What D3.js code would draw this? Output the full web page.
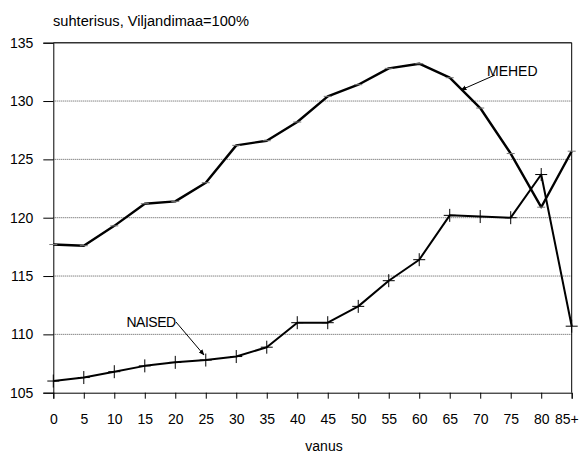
<!DOCTYPE html>
<html><head><meta charset="utf-8">
<script src="https://cdn.jsdelivr.net/npm/d3@7"></script>
<style>body{margin:0;background:#fff}svg{display:block;font-family:"Liberation Sans",Arial,sans-serif}</style>
</head><body><svg id="c" width="579" height="454"></svg>
<script>
const categories = ["0","5","10","15","20","25","30","35","40","45","50","55","60","65","70","75","80","85+"];
const mehed = [117.7,117.6,119.3,121.2,121.4,123.0,126.2,126.6,128.2,130.4,131.4,132.8,133.2,132.0,129.4,125.5,120.9,125.7];
const naised = [106.0,106.3,106.8,107.3,107.6,107.8,108.1,108.9,111.0,111.0,112.4,114.6,116.4,120.2,120.1,120.0,123.7,110.7];
const yTicks = [105,110,115,120,125,130,135];

const svg = d3.select("#c");
const L = 53.3, R = 571.7, T = 42.7, B = 392.7;
const x = d3.scalePoint().domain(categories).range([L, R]).padding(0);
const y = d3.scaleLinear().domain([105,135]).range([B, T]);

// gridlines
svg.append("g").selectAll("line").data(yTicks.filter(v => v > 105 && v < 135)).join("line")
  .attr("x1", L).attr("x2", R).attr("y1", d => y(d)).attr("y2", d => y(d))
  .attr("stroke", "#555").attr("stroke-width", 1).attr("stroke-dasharray", "1,1");
// top and right frame
svg.append("line").attr("x1", L).attr("x2", R).attr("y1", y(135)).attr("y2", y(135)).attr("stroke", "#333").attr("stroke-width", 1.5);
svg.append("line").attr("x1", R).attr("x2", R).attr("y1", T).attr("y2", B).attr("stroke", "#000").attr("stroke-width", 1);

// axes
const yAxis = d3.axisLeft(y).tickValues(yTicks).tickSize(10).tickPadding(10).tickFormat(d3.format("d"));
const gy = svg.append("g").attr("transform", `translate(${L},0)`).call(yAxis);
const xAxis = d3.axisBottom(x).tickSize(6).tickPadding(15);
const gx = svg.append("g").attr("transform", `translate(0,${B})`).call(xAxis);
[gy, gx].forEach(g => {
  g.select(".domain").attr("stroke", "#000");
  g.selectAll(".tick line").attr("stroke", "#000");
  g.selectAll("text").attr("font-size", 14).attr("fill", "#000").attr("font-family", '"Liberation Sans",Arial,sans-serif');
});
gx.selectAll(".tick").filter(d => d === "85+").select("text").attr("text-anchor", "end").attr("x", 6.5);

const line = d3.line().x((d, i) => x(categories[i])).y(d => y(d));
svg.append("path").datum(mehed).attr("d", line).attr("fill", "none").attr("stroke", "#000").attr("stroke-width", 2.4).attr("stroke-linejoin", "round");
svg.append("path").datum(naised).attr("d", line).attr("fill", "none").attr("stroke", "#000").attr("stroke-width", 2).attr("stroke-linejoin", "round");

// markers
svg.append("g").selectAll("line").data(mehed).join("line")
  .attr("x1", (d, i) => x(categories[i]) - 4).attr("x2", (d, i) => x(categories[i]) + 4)
  .attr("y1", d => y(d)).attr("y2", d => y(d)).attr("stroke", "#777").attr("stroke-width", 1);
const plus = svg.append("g").selectAll("g").data(naised).join("g")
  .attr("transform", (d, i) => `translate(${x(categories[i])},${y(d)})`);
plus.append("line").attr("x1", -6).attr("x2", 6).attr("stroke", "#000").attr("stroke-width", 1);
plus.append("line").attr("y1", -6.5).attr("y2", 6.5).attr("stroke", "#000").attr("stroke-width", 1);

// texts
svg.append("text").attr("x", 53).attr("y", 26).attr("font-size", 14).attr("textLength", 196).attr("lengthAdjust", "spacingAndGlyphs").text("suhterisus, Viljandimaa=100%");
svg.append("text").attr("x", 324).attr("y", 451).attr("text-anchor", "middle").attr("font-size", 14).text("vanus");

// annotations
svg.append("defs").append("marker").attr("id", "ah").attr("viewBox", "0 0 10 10").attr("refX", 9).attr("refY", 5)
  .attr("markerWidth", 6).attr("markerHeight", 6).attr("orient", "auto")
  .append("path").attr("d", "M0,1 L10,5 L0,9 z").attr("fill", "#000");
svg.append("text").attr("x", 487).attr("y", 76).attr("font-size", 14).text("MEHED");
svg.append("line").attr("x1", 495).attr("y1", 75).attr("x2", 461).attr("y2", 90).attr("stroke", "#000").attr("stroke-width", 1).attr("marker-end", "url(#ah)");
svg.append("text").attr("x", 126.5).attr("y", 327).attr("font-size", 14).attr("letter-spacing", -0.5).text("NAISED");
svg.append("line").attr("x1", 176).attr("y1", 322).attr("x2", 204).attr("y2", 355).attr("stroke", "#000").attr("stroke-width", 1).attr("marker-end", "url(#ah)");
</script></body></html>
